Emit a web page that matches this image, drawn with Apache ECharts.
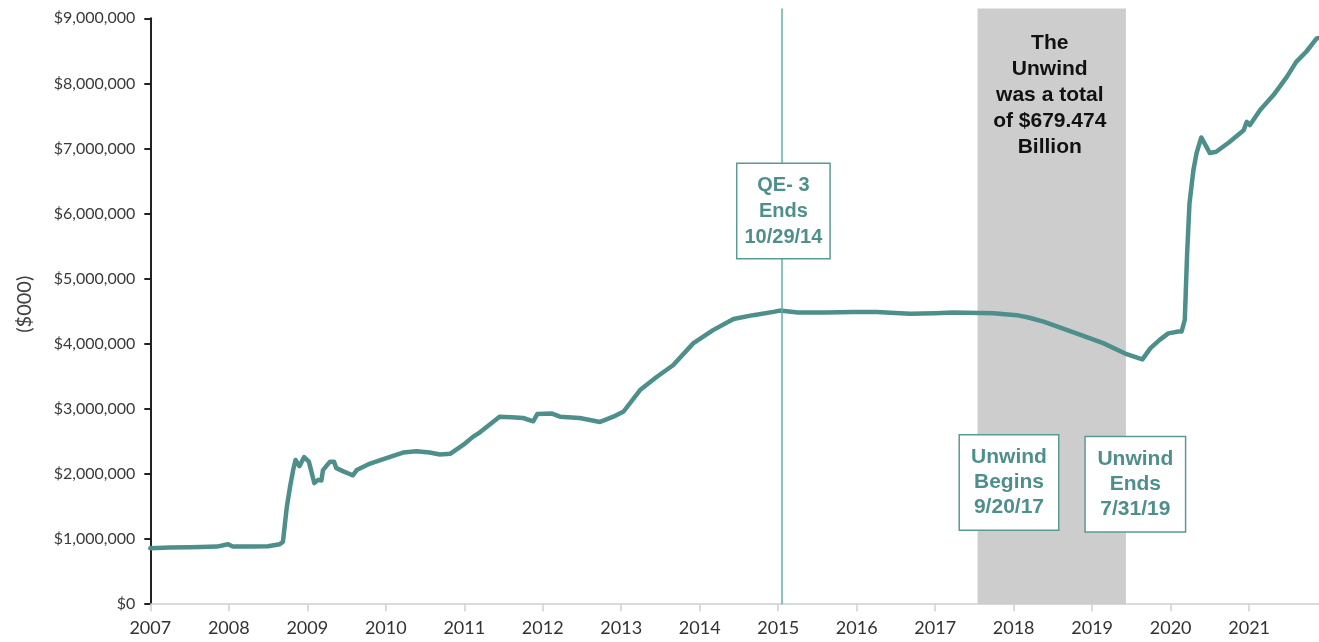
<!DOCTYPE html>
<html>
<head>
<meta charset="utf-8">
<script src="https://cdn.jsdelivr.net/npm/echarts@6/dist/echarts.min.js"></script>
<style>
  html, body { margin: 0; padding: 0; background: #fff; }
  #chart { width: 1319px; height: 642px; }
</style>
</head>
<body>
<div id="chart"></div>
<script>
// fed balance sheet, total assets ($000)
var years = [
  2007.00, 2007.25, 2007.50, 2007.64, 2007.85, 2007.99, 2008.05, 2008.30, 2008.50, 2008.65,
  2008.69, 2008.74, 2008.78, 2008.82, 2008.85, 2008.90, 2008.96, 2009.02, 2009.09, 2009.14,
  2009.18, 2009.20, 2009.29, 2009.34, 2009.37, 2009.46, 2009.54, 2009.58, 2009.63, 2009.80,
  2009.97, 2010.22, 2010.39, 2010.56, 2010.69, 2010.82, 2010.99, 2011.11, 2011.20, 2011.45,
  2011.60, 2011.75, 2011.88, 2011.93, 2012.11, 2012.22, 2012.47, 2012.73, 2012.90, 2013.03,
  2013.24, 2013.45, 2013.66, 2013.92, 2014.17, 2014.43, 2014.68, 2014.94, 2015.02, 2015.25,
  2015.62, 2015.95, 2016.25, 2016.68, 2017.00, 2017.23, 2017.74, 2018.04, 2018.20, 2018.38,
  2018.80, 2019.14, 2019.44, 2019.64, 2019.74, 2019.86, 2019.97, 2020.10, 2020.14, 2020.18,
  2020.21, 2020.24, 2020.29, 2020.33, 2020.39, 2020.50, 2020.58, 2020.75, 2020.93, 2020.97,
  2021.01, 2021.14, 2021.31, 2021.48, 2021.60, 2021.73, 2021.86, 2021.89
];
var assets = [
  860000, 870000, 875000, 880000, 885000, 920000, 885000, 885000, 890000, 920000,
  960000, 1500000, 1800000, 2060000, 2215000, 2120000, 2260000, 2190000, 1860000, 1910000,
  1900000, 2060000, 2190000, 2190000, 2090000, 2040000, 2000000, 1980000, 2060000, 2160000,
  2230000, 2330000, 2350000, 2330000, 2300000, 2310000, 2450000, 2570000, 2640000, 2880000,
  2870000, 2860000, 2810000, 2920000, 2930000, 2880000, 2860000, 2800000, 2880000, 2960000,
  3290000, 3490000, 3670000, 4010000, 4210000, 4380000, 4440000, 4490000, 4510000, 4480000,
  4480000, 4490000, 4490000, 4460000, 4470000, 4480000, 4470000, 4440000, 4400000, 4340000,
  4160000, 4010000, 3840000, 3760000, 3930000, 4060000, 4160000, 4190000, 4190000, 4370000,
  5390000, 6160000, 6670000, 6930000, 7170000, 6930000, 6950000, 7100000, 7280000, 7410000,
  7360000, 7590000, 7820000, 8100000, 8330000, 8490000, 8690000, 8700000
];
var yearTicks = [2007, 2008, 2009, 2010, 2011, 2012, 2013, 2014, 2015, 2016, 2017, 2018, 2019, 2020, 2021];

var qeEnd = 2015.04;                 // vertical line
var unwindSpan = [2017.54, 2019.43]; // shaded band

var TEAL = '#4e8f8b';
var ARIAL = 'Arial, "Liberation Sans", sans-serif';
var seriesData = years.map(function (y, i) { return [y, assets[i]]; });

function boxLabel(text, size, lh, pad, w) {
  return {
    show: true,
    position: 'inside',
    formatter: text,
    color: TEAL,
    fontFamily: ARIAL,
    fontWeight: 'bold',
    fontSize: size,
    lineHeight: lh,
    align: 'center',
    width: w,
    backgroundColor: '#fff',
    borderColor: '#5a9a96',
    borderWidth: 1.5,
    padding: pad
  };
}

var chart = echarts.init(document.getElementById('chart'));
var option = {
  animation: false,
  grid: [
    {left: 150.3, right: 0, top: 18.3, bottom: 37.8, outerBoundsMode: 'none'},
    {left: 150.3, right: 0, top: 8.5, bottom: 37.8, outerBoundsMode: 'none'}
  ],
  xAxis: [
    {
      type: 'value', min: 2007, max: 2021.89, interval: 1,
      axisLine: {lineStyle: {color: '#d0d0d0', width: 1.5}},
      axisTick: {show: true, length: 7, customValues: yearTicks, lineStyle: {color: '#cfcfcf', width: 1.5}},
      axisLabel: {
        customValues: yearTicks, margin: 15,
        fontFamily: 'Lato', fontSize: 18, color: '#333',
        formatter: function (v) { return String(v); }
      },
      splitLine: {show: false}
    },
    {type: 'value', gridIndex: 1, min: 2007, max: 2021.89, show: false}
  ],
  yAxis: [
    {
      type: 'value', min: 0, max: 9000000, interval: 1000000,
      name: '($000)', nameLocation: 'middle', nameGap: 116, nameRotate: 90,
      nameTextStyle: {fontFamily: 'Lato', fontSize: 20, color: '#404040', padding: [0, 0, 0, 14]},
      axisLine: {show: true, lineStyle: {color: '#222', width: 2}},
      axisTick: {show: true, length: 6, lineStyle: {color: '#222', width: 2}},
      axisLabel: {
        margin: 15, fontFamily: 'Lato', fontSize: 16, color: '#3a3a3a',
        formatter: function (v) { return '$' + v.toLocaleString('en-US'); }
      },
      splitLine: {show: false}
    },
    {type: 'value', gridIndex: 1, min: 0, max: 9150000, show: false}
  ],
  series: [
    {
      // band + QE-3 line, drawn on the taller helper grid
      type: 'line', xAxisIndex: 1, yAxisIndex: 1, z: 1,
      data: [[2007, 0]], symbol: 'none', silent: true,
      itemStyle: {color: '#5fb0a9'},
      lineStyle: {opacity: 0},
      markArea: {
        silent: true,
        itemStyle: {color: '#cdcdcd'},
        data: [[{xAxis: unwindSpan[0], yAxis: 0}, {xAxis: unwindSpan[1], yAxis: 9150000}]]
      },
      markLine: {
        silent: true, symbol: 'none', label: {show: false},
        lineStyle: {color: '#5fb0a9', width: 1.5, type: 'solid', opacity: 1},
        emphasis: {disabled: true},
        data: [{xAxis: qeEnd}]
      }
    },
    {
      name: 'Total Assets', type: 'line', z: 3,
      data: seriesData, showSymbol: false, symbol: 'none',
      lineStyle: {color: TEAL, width: 4.5, join: 'round', cap: 'round'},
      markPoint: {
        silent: true, symbol: 'rect', symbolSize: 1,
        itemStyle: {color: 'rgba(0,0,0,0)'},
        data: [
          {coord: [2015.066, 6040000], label: boxLabel('QE- 3\nEnds\n10/29/14', 20, 26, [8, 7])},
          {coord: [2017.94, 1869000], label: boxLabel('Unwind\nBegins\n9/20/17', 21, 25, [9.5, 11], 76)},
          {coord: [2019.55, 1843000], label: boxLabel('Unwind\nEnds\n7/31/19', 21, 25, [9.5, 11.5], 76)},
          {
            coord: [2018.46, 7822000],
            label: {
              show: true, position: 'inside',
              formatter: 'The\nUnwind\nwas a total\nof $679.474\nBillion',
              color: '#111', fontFamily: ARIAL, fontWeight: 'bold',
              fontSize: 21, lineHeight: 26, align: 'center'
            }
          }
        ]
      }
    }
  ]
};
chart.setOption(option);
</script>
</body>
</html>
